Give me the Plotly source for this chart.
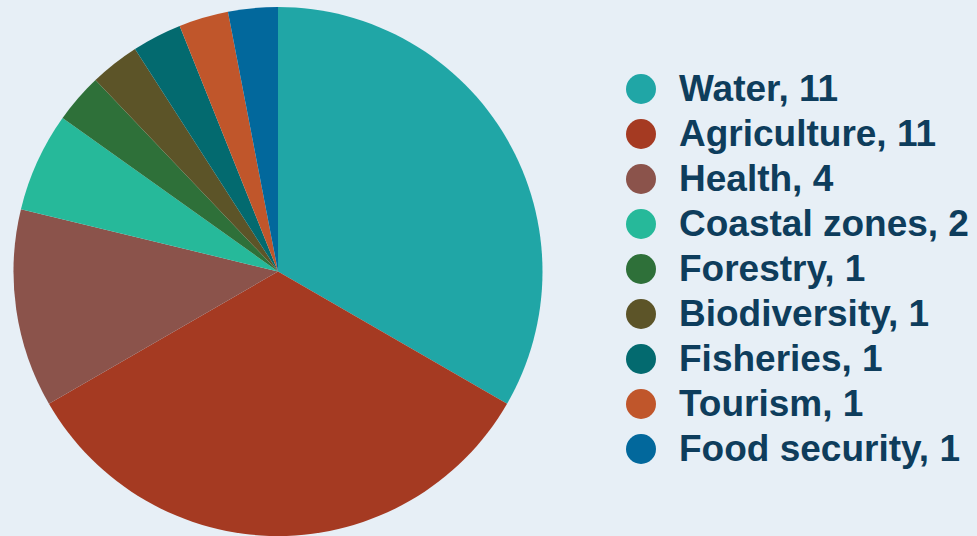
import plotly.graph_objects as go

categories = ["Water", "Agriculture", "Health", "Coastal zones", "Forestry",
              "Biodiversity", "Fisheries", "Tourism", "Food security"]
values = [11, 11, 4, 2, 1, 1, 1, 1, 1]
colors = ["#20a6a6", "#a53a22", "#8b534b", "#26b99a", "#2e7039",
          "#5c5428", "#036a6f", "#c0562b", "#02689c"]
legend_labels = [f"{c}, {v}" for c, v in zip(categories, values)]

W, H = 977, 536
TEXT = "#0e3d5c"
BG = "#e7eff6"

fig = go.Figure()
fig.add_trace(go.Pie(
    labels=categories, values=values, sort=False, direction="clockwise",
    rotation=0, marker=dict(colors=colors, line=dict(width=0)),
    textinfo="none", hoverinfo="label+value", showlegend=False,
    domain=dict(x=[13.5 / W, 542.5 / W], y=[0, 1 - 7 / H]),
))

leg_y = [89 + 45 * i for i in range(len(categories))]
fig.add_trace(go.Scatter(
    x=[641] * len(categories), y=leg_y, mode="markers",
    marker=dict(size=30, color=colors, line=dict(width=0)),
    hoverinfo="skip", showlegend=False, xaxis="x", yaxis="y",
))
fig.add_trace(go.Scatter(
    x=[679] * len(categories), y=[v + 3 for v in leg_y], mode="text",
    text=legend_labels, textposition="middle right",
    textfont=dict(family="Liberation Sans, Arial, sans-serif", size=37,
                  color=TEXT, weight="bold"),
    hoverinfo="skip", showlegend=False, xaxis="x", yaxis="y",
))

fig.update_layout(
    width=W, height=H, margin=dict(l=0, r=0, t=0, b=0),
    paper_bgcolor=BG, plot_bgcolor="rgba(0,0,0,0)",
    xaxis=dict(range=[0, W], visible=False, fixedrange=True),
    yaxis=dict(range=[H, 0], visible=False, fixedrange=True),
    showlegend=False,
)
fig.write_html("out.html")
